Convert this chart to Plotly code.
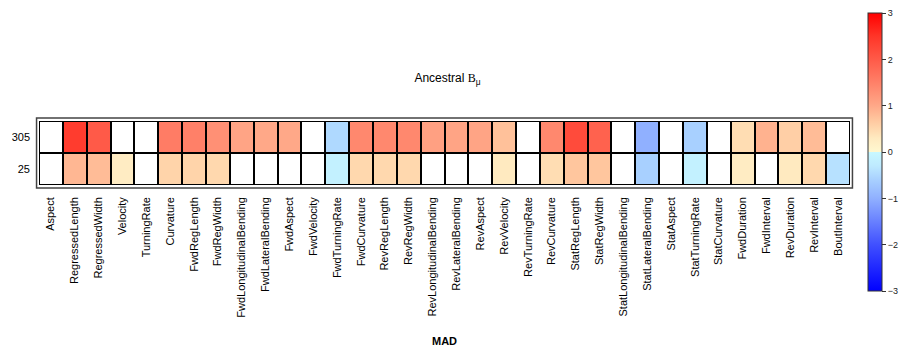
import plotly.graph_objects as go

features = ["Aspect", "RegressedLength", "RegressedWidth", "Velocity", "TurningRate",
            "Curvature", "FwdRegLength", "FwdRegWidth", "FwdLongitudinalBending",
            "FwdLateralBending", "FwdAspect", "FwdVelocity", "FwdTurningRate",
            "FwdCurvature", "RevRegLength", "RevRegWidth", "RevLongitudinalBending",
            "RevLateralBending", "RevAspect", "RevVelocity", "RevTurningRate",
            "RevCurvature", "StatRegLength", "StatRegWidth", "StatLongitudinalBending",
            "StatLateralBending", "StatAspect", "StatTurningRate", "StatCurvature",
            "FwdDuration", "FwdInterval", "RevDuration", "RevInterval", "BoutInterval"]

rows = ["305", "25"]

N = None
row_305 = [N, 2.4, 2.0, N, N, 1.55, 1.5, 1.3, 1.05, 1.0, 1.0, N, -0.5,
           1.4, 1.4, 1.4, 1.1, 1.05, 1.05, 0.75, N, 1.4, 2.2, 1.9, N,
           -1.0, N, -0.6, N, 0.45, 0.9, 0.6, 0.8, N]
row_25 = [N, 0.85, 0.8, 0.25, N, 0.55, 0.55, 0.5, N, N, N, N, -0.15,
          0.5, 0.5, 0.5, N, N, N, 0.3, N, 0.45, 0.7, 0.7, N,
          -0.6, N, -0.15, N, 0.25, N, 0.3, 0.5, -0.4]

zmin, zmax = -3, 3
def p(v):
    return (v - zmin) / (zmax - zmin)

colorscale = [
    [p(-3.0), "#0000FF"],
    [p(-2.0), "#4050FF"],
    [p(-1.0), "#90B0FF"],
    [p(-0.6), "#A8D0FF"],
    [p(-0.3), "#BEEAFF"],
    [p(-0.001), "#C8F8FF"],
    [p(0.001), "#FFF8D0"],
    [p(0.3), "#FFEAC0"],
    [p(0.5), "#FFD8AE"],
    [p(0.7), "#FFC69E"],
    [p(1.0), "#FFA888"],
    [p(1.5), "#FF8068"],
    [p(2.0), "#FF5A48"],
    [p(2.5), "#FF3528"],
    [p(3.0), "#FF0000"],
]

W, H = 911, 349
L, R, T, B = 34, 50, 110, 155
pw = W - L - R
ph = H - T - B

fig = go.Figure()
fig.add_trace(go.Heatmap(
    x=features, y=rows, z=[[0] * len(features) for _ in rows],
    colorscale=[[0, "white"], [1, "white"]], showscale=False,
    xgap=2, ygap=2, hoverinfo="skip"))
fig.add_trace(go.Heatmap(
    x=features, y=rows, z=[row_305, row_25],
    colorscale=colorscale, zmin=zmin, zmax=zmax,
    xgap=2, ygap=2,
    colorbar=dict(
        x=(879 - L) / pw, xanchor="left", xpad=0, ypad=0,
        y=(H - B - 151) / ph, yanchor="middle",
        lenmode="pixels", len=278, thickness=14,
        outlinewidth=1, outlinecolor="#333",
        tickvals=[-3, -2, -1, 0, 1, 2, 3], ticks="outside", ticklen=4,
        tickcolor="#333", tickfont=dict(size=9, color="#222"),
    )))

fig.add_shape(type="rect", xref="paper", yref="paper",
              x0=-2.5 / pw, x1=1 + 2.5 / pw, y0=-4 / ph, y1=1 + 4 / ph,
              line=dict(color="#444", width=1.5))

fig.update_layout(
    width=W, height=H,
    margin=dict(l=L, r=R, t=T, b=B, pad=0),
    paper_bgcolor="white", plot_bgcolor="black",
    font=dict(family="Liberation Sans, Arial, sans-serif", color="black"),
    title=dict(text="Ancestral <span style='font-family:Liberation Serif'>B</span><sub>μ</sub>",
               x=(L + pw / 2) / W, xanchor="center", y=1 - 78 / H, yanchor="middle",
               font=dict(size=12)),
    xaxis=dict(tickangle=-90, showgrid=False, zeroline=False, ticks="",
               tickfont=dict(size=11), showline=False, ticklabelstandoff=9,
               title=dict(text="<b>MAD</b>", font=dict(size=11), standoff=20)),
    yaxis=dict(autorange="reversed", showgrid=False, zeroline=False, ticks="",
               tickfont=dict(size=11), showline=False, ticklabelstandoff=8),
)

fig.write_html("out.html")
